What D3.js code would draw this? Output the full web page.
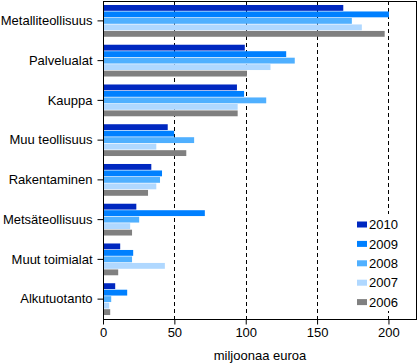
<!DOCTYPE html>
<html><head><meta charset="utf-8">
<script src="https://cdn.jsdelivr.net/npm/d3@7"></script>
<style>body{margin:0;background:#fff}svg{display:block;font-family:"Liberation Sans",Arial,sans-serif}</style>
</head><body><svg id="c" width="418" height="364"></svg>
<script>
const categories = ["Metalliteollisuus","Palvelualat","Kauppa","Muu teollisuus","Rakentaminen","Metsäteollisuus","Muut toimialat","Alkutuotanto"];
const years = ["2010","2009","2008","2007","2006"];
const colors = ["#0028c0","#0080ff","#50b0ff","#b0d8ff","#808080"];
const v2010 = [168, 99, 93.5, 45, 33.5, 23, 11.7, 8.2];
const v2009 = [200, 128, 98.5, 49.5, 41, 71, 20.8, 16.6];
const v2008 = [174, 134, 114, 63.5, 39.6, 25, 20, 5.4];
const v2007 = [181, 117, 94, 37, 37, 18.7, 43, 4];
const v2006 = [197, 100.5, 94, 58, 31.2, 20, 10.3, 4.7];
const xTicks = [0, 50, 100, 150, 200];
const series = [v2010, v2009, v2008, v2007, v2006];

const svg = d3.select("#c");
const L = 103, R = 417, T = 1, B = 319;
const x = d3.scaleLinear().domain([0, 220]).range([L, R]);
const y = d3.scaleBand().domain(categories).range([T, B]).paddingInner(0.2).paddingOuter(0.1);
const yi = d3.scaleBand().domain(years).range([0, y.bandwidth()]).paddingInner(0.1);

// gridlines
svg.append("g").selectAll("line").data(xTicks.filter(d => d > 0)).join("line")
  .attr("x1", d => Math.round(x(d)) + 0.5).attr("x2", d => Math.round(x(d)) + 0.5)
  .attr("y1", T).attr("y2", B)
  .attr("stroke", "#000").attr("stroke-dasharray", "4,3");

// bars
const g = svg.append("g");
categories.forEach((c, ci) => {
  years.forEach((yr, si) => {
    g.append("rect")
      .attr("x", x(0) + 0.5)
      .attr("y", y(c) + yi(yr))
      .attr("width", Math.max(0, x(series[si][ci]) - x(0)))
      .attr("height", yi.bandwidth())
      .attr("fill", colors[si]);
  });
});

// frame
svg.append("rect").attr("x", L + 0.5).attr("y", T + 0.5).attr("width", R - L - 1).attr("height", B - T)
  .attr("fill", "none").attr("stroke", "#000");

// legend
const lg = svg.append("g");
lg.append("rect").attr("x", 350).attr("y", 214).attr("width", 62).attr("height", 97).attr("fill", "#fff");
years.forEach((yr, i) => {
  const cy = 224.5 + i * 19.4;
  lg.append("rect").attr("x", 357).attr("y", cy - 3).attr("width", 10).attr("height", 6).attr("fill", colors[i]);
  lg.append("text").attr("x", 369).attr("y", cy).attr("dy", "0.36em").attr("font-size", 13).attr("fill", "#000").text(yr);
});

// axes
const xa = svg.append("g").attr("transform", `translate(0,${B + 0.5})`)
  .call(d3.axisBottom(x).tickValues(xTicks).tickSize(5).tickPadding(3).tickFormat(d3.format("d")));
xa.select(".domain").remove();
xa.selectAll("text").attr("font-size", 13).attr("fill", "#000").attr("font-family", "Liberation Sans, Arial, sans-serif");

const ya = svg.append("g").attr("transform", `translate(${L + 0.5},0)`)
  .call(d3.axisLeft(y).tickSize(6).tickPadding(5));
ya.select(".domain").remove();
ya.selectAll("text").attr("font-size", 13).attr("fill", "#000").attr("font-family", "Liberation Sans, Arial, sans-serif");

svg.append("text").attr("x", (L + R) / 2).attr("y", 360).attr("text-anchor", "middle")
  .attr("font-size", 13).attr("fill", "#000").text("miljoonaa euroa");
</script></body></html>
